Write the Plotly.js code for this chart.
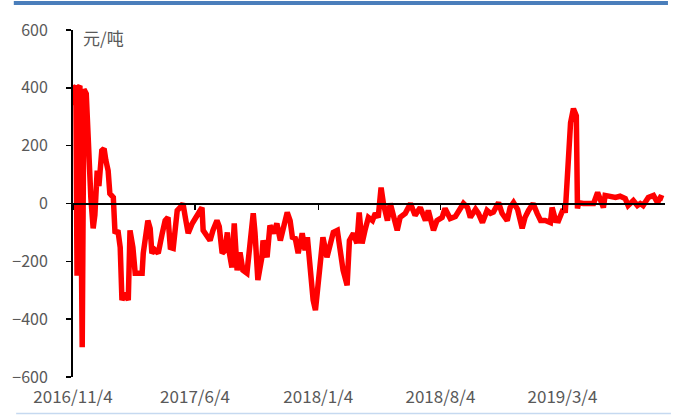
<!DOCTYPE html>
<html>
<head>
<meta charset="utf-8">
<script src="https://cdn.plot.ly/plotly-3.0.1.min.js"></script>
<style>
html,body{margin:0;padding:0;background:#fff;}
#chart{width:677px;height:415px;}
</style>
</head>
<body>
<div id="chart"></div>
<script>
const dates = [
"2016-11-04","2016-11-06","2016-11-09","2016-11-11","2016-11-13","2016-11-16","2016-11-20","2016-11-23","2016-11-27","2016-12-02",
"2016-12-05","2016-12-09","2016-12-12","2016-12-16","2016-12-19","2016-12-24","2016-12-28","2016-12-31","2017-01-04","2017-01-07",
"2017-01-13","2017-01-16","2017-01-21","2017-01-25","2017-01-28","2017-02-02","2017-02-08","2017-02-11","2017-02-16","2017-02-20",
"2017-02-25","2017-03-04","2017-03-06","2017-03-13","2017-03-14","2017-03-18","2017-03-21","2017-03-26","2017-04-01","2017-04-08",
"2017-04-13","2017-04-18","2017-04-22","2017-04-27","2017-05-04","2017-05-09","2017-05-14","2017-05-18","2017-05-23","2017-05-30",
"2017-06-04","2017-06-09","2017-06-16","2017-06-18","2017-06-25","2017-06-30","2017-07-05","2017-07-12","2017-07-16","2017-07-21",
"2017-07-26","2017-07-30","2017-08-02","2017-08-07","2017-08-11","2017-08-16","2017-08-21","2017-08-26","2017-09-02","2017-09-08",
"2017-09-13","2017-09-16","2017-09-21","2017-09-28","2017-09-30","2017-10-07","2017-10-12","2017-10-18","2017-10-24","2017-10-30",
"2017-11-04","2017-11-11","2017-11-16","2017-11-20","2017-11-25","2017-11-30","2017-12-07","2017-12-12","2017-12-16","2017-12-21",
"2017-12-26","2017-12-30","2018-01-04","2018-01-12","2018-01-19","2018-01-25","2018-01-30","2018-02-06","2018-02-11","2018-02-16",
"2018-02-23","2018-02-27","2018-03-06","2018-03-12","2018-03-16","2018-03-21","2018-03-26","2018-04-01","2018-04-08","2018-04-13",
"2018-04-18","2018-04-23","2018-04-27","2018-05-04","2018-05-09","2018-05-14","2018-05-21","2018-05-26","2018-06-04","2018-06-13",
"2018-06-21","2018-06-30","2018-07-09","2018-07-14","2018-07-23","2018-07-29","2018-08-07","2018-08-12","2018-08-21","2018-08-30",
"2018-09-07","2018-09-13","2018-09-20","2018-09-25","2018-10-04","2018-10-09","2018-10-16","2018-10-24","2018-10-30","2018-11-04",
"2018-11-13","2018-11-19","2018-11-28","2018-12-03","2018-12-09","2018-12-16","2018-12-24","2018-12-29","2019-01-04","2019-01-12",
"2019-01-19","2019-01-25","2019-02-02","2019-02-11","2019-02-14","2019-02-20","2019-02-25","2019-03-04","2019-03-09","2019-03-14",
"2019-03-18","2019-03-23","2019-03-28","2019-03-30","2019-04-01","2019-04-09","2019-04-18","2019-04-27","2019-05-04","2019-05-09",
"2019-05-14","2019-05-17","2019-05-26","2019-06-04","2019-06-12","2019-06-21","2019-06-26","2019-07-05","2019-07-12","2019-07-17",
"2019-07-22","2019-07-31","2019-08-09","2019-08-16","2019-08-21","2019-08-26"
];
const spread = [
340,400,405,-250,400,407,-497,395,380,120,
20,-86,-40,114,60,183,190,150,114,34,
21,-103,-93,-152,-334,-310,-334,-93,-152,-241,
-241,-241,-172,-69,-59,-86,-172,-160,-172,-103,
-59,-48,-152,-155,-24,-14,0,-48,-103,-69,
-52,-31,-14,-93,-117,-128,-93,-59,-80,-172,
-162,-100,-165,-221,-69,-231,-169,-231,-241,-117,
-34,-100,-265,-186,-128,-186,-76,-103,-69,-128,
-83,-31,-59,-117,-121,-172,-103,-162,-117,-231,
-334,-369,-265,-117,-186,-138,-100,-93,-162,-231,
-283,-128,-103,-138,-31,-138,-93,-48,-59,-34,
-48,55,0,-59,0,-40,-93,-48,-34,0,
-41,-14,-59,-24,-93,-59,-48,-17,-52,-45,
-17,0,-14,-48,-20,-34,-66,-24,-34,-30,
3,-34,-59,-14,3,-20,-86,-48,-24,0,
-34,-59,-59,-66,-14,-59,-60,-25,-24,141,
279,328,303,-17,3,0,0,0,38,17,
-14,28,25,21,25,17,-7,10,-7,0,
-7,21,28,3,21,17
];
const tickDates = ["2016-11-04","2017-06-04","2018-01-04","2018-08-04","2019-03-04"];
const tickLabels = ["2016/11/4","2017/6/4","2018/1/4","2018/8/4","2019/3/4"];
const yTicks = [-600,-400,-200,0,200,400,600];
const unitLabel = "元/吨";

const fontFam = '"Noto Sans CJK SC", "Noto Sans", sans-serif';
const grey = '#595959';

const traces = [
  {x: dates, y: spread, type: 'scatter', mode: 'lines',
   line: {color: '#ff0000', width: 5.5}, hoverinfo: 'skip', showlegend: false},
  {x: [], y: [], xaxis: 'x2', yaxis: 'y', type: 'scatter', mode: 'lines', showlegend: false}
];

const layout = {
  width: 677, height: 415,
  margin: {l: 73, r: 12, t: 30, b: 38, pad: 0},
  paper_bgcolor: '#fff', plot_bgcolor: '#fff',
  showlegend: false,
  font: {family: fontFam, color: grey, size: 16},
  xaxis: {
    type: 'date', range: ['2016-11-04', '2019-08-29'],
    tickvals: tickDates, ticktext: tickLabels,
    showgrid: false, zeroline: false, showline: false,
    ticks: '', ticklabelstandoff: 8,
    tickfont: {size: 17, color: grey, family: fontFam}
  },
  xaxis2: {
    type: 'date', overlaying: 'x', matches: 'x', anchor: 'free', position: 0.5,
    range: ['2016-11-04', '2019-08-29'],
    tickvals: tickDates, showticklabels: false,
    showgrid: false, zeroline: false,
    showline: true, linecolor: '#000', linewidth: 2,
    ticks: 'outside', ticklen: 5, tickwidth: 1.5, tickcolor: '#000'
  },
  yaxis: {
    range: [-600, 600], tickvals: yTicks,
    showgrid: false, zeroline: false,
    showline: true, linecolor: '#000', linewidth: 2,
    ticks: 'outside', ticklen: 5, tickwidth: 1.5, tickcolor: '#000',
    ticklabelstandoff: 15,
    tickfont: {size: 16, color: grey, family: fontFam}
  },
  annotations: [{
    text: unitLabel, xref: 'paper', yref: 'paper', x: 0.014, y: 0.978,
    xanchor: 'left', yanchor: 'middle', showarrow: false,
    font: {size: 17, color: grey, family: fontFam}
  }],
  shapes: [
    {type: 'line', xref: 'paper', yref: 'paper', x0: -0.1, x1: 1.005, y0: 1.078, y1: 1.078,
     line: {color: '#4a7ebb', width: 4}},
    {type: 'line', xref: 'paper', yref: 'paper', x0: -0.096, x1: 1.01, y0: -0.105, y1: -0.105,
     line: {color: '#c6d9f0', width: 1.5}}
  ]
};

Plotly.newPlot('chart', traces, layout, {displayModeBar: false, staticPlot: true});
</script>
</body>
</html>
